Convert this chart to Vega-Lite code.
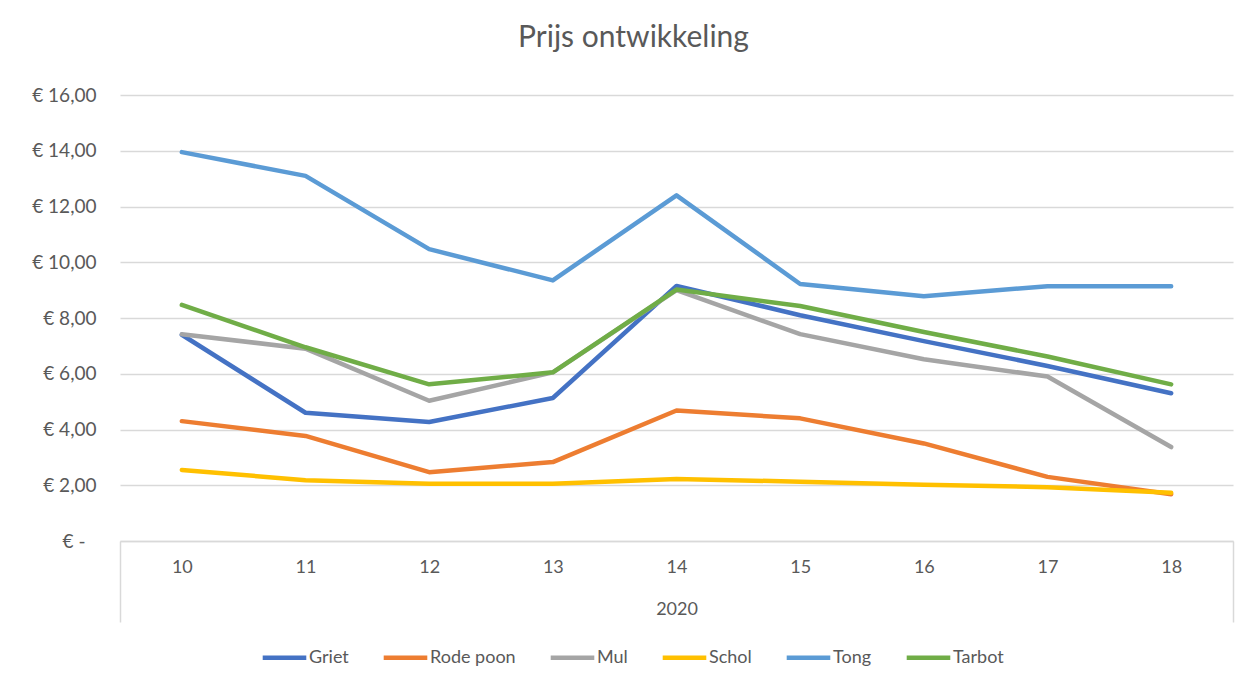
{
  "$schema": "https://vega.github.io/schema/vega-lite/v6.json",
  "width": 1113,
  "height": 446,
  "autosize": {"type": "none"},
  "padding": {"left": 120, "top": 95, "right": 24, "bottom": 143},
  "background": "white",
  "title": {
    "text": "Prijs ontwikkeling",
    "anchor": "middle",
    "frame": "group",
    "dx": -43,
    "offset": 33,
    "font": "Lato",
    "fontSize": 30,
    "fontWeight": "normal",
    "color": "#595959"
  },
  "config": {
    "view": {"stroke": null},
    "font": "Lato"
  },
  "data": {
    "values": [
      {"week": "10", "vis": "Griet", "prijs": 7.40},
      {"week": "11", "vis": "Griet", "prijs": 4.60},
      {"week": "12", "vis": "Griet", "prijs": 4.27},
      {"week": "13", "vis": "Griet", "prijs": 5.13},
      {"week": "14", "vis": "Griet", "prijs": 9.15},
      {"week": "15", "vis": "Griet", "prijs": 8.10},
      {"week": "16", "vis": "Griet", "prijs": 7.17},
      {"week": "17", "vis": "Griet", "prijs": 6.28},
      {"week": "18", "vis": "Griet", "prijs": 5.30},
      {"week": "10", "vis": "Rode poon", "prijs": 4.30},
      {"week": "11", "vis": "Rode poon", "prijs": 3.77},
      {"week": "12", "vis": "Rode poon", "prijs": 2.47},
      {"week": "13", "vis": "Rode poon", "prijs": 2.83},
      {"week": "14", "vis": "Rode poon", "prijs": 4.68},
      {"week": "15", "vis": "Rode poon", "prijs": 4.40},
      {"week": "16", "vis": "Rode poon", "prijs": 3.50},
      {"week": "17", "vis": "Rode poon", "prijs": 2.30},
      {"week": "18", "vis": "Rode poon", "prijs": 1.68},
      {"week": "10", "vis": "Mul", "prijs": 7.42},
      {"week": "11", "vis": "Mul", "prijs": 6.90},
      {"week": "12", "vis": "Mul", "prijs": 5.03},
      {"week": "13", "vis": "Mul", "prijs": 6.05},
      {"week": "14", "vis": "Mul", "prijs": 9.00},
      {"week": "15", "vis": "Mul", "prijs": 7.42},
      {"week": "16", "vis": "Mul", "prijs": 6.52},
      {"week": "17", "vis": "Mul", "prijs": 5.90},
      {"week": "18", "vis": "Mul", "prijs": 3.37},
      {"week": "10", "vis": "Schol", "prijs": 2.55},
      {"week": "11", "vis": "Schol", "prijs": 2.18},
      {"week": "12", "vis": "Schol", "prijs": 2.05},
      {"week": "13", "vis": "Schol", "prijs": 2.05},
      {"week": "14", "vis": "Schol", "prijs": 2.22},
      {"week": "15", "vis": "Schol", "prijs": 2.13},
      {"week": "16", "vis": "Schol", "prijs": 2.02},
      {"week": "17", "vis": "Schol", "prijs": 1.93},
      {"week": "18", "vis": "Schol", "prijs": 1.73},
      {"week": "10", "vis": "Tong", "prijs": 13.95},
      {"week": "11", "vis": "Tong", "prijs": 13.10},
      {"week": "12", "vis": "Tong", "prijs": 10.47},
      {"week": "13", "vis": "Tong", "prijs": 9.35},
      {"week": "14", "vis": "Tong", "prijs": 12.40},
      {"week": "15", "vis": "Tong", "prijs": 9.22},
      {"week": "16", "vis": "Tong", "prijs": 8.78},
      {"week": "17", "vis": "Tong", "prijs": 9.14},
      {"week": "18", "vis": "Tong", "prijs": 9.14},
      {"week": "10", "vis": "Tarbot", "prijs": 8.47},
      {"week": "11", "vis": "Tarbot", "prijs": 6.95},
      {"week": "12", "vis": "Tarbot", "prijs": 5.62},
      {"week": "13", "vis": "Tarbot", "prijs": 6.05},
      {"week": "14", "vis": "Tarbot", "prijs": 9.02},
      {"week": "15", "vis": "Tarbot", "prijs": 8.43},
      {"week": "16", "vis": "Tarbot", "prijs": 7.50},
      {"week": "17", "vis": "Tarbot", "prijs": 6.62},
      {"week": "18", "vis": "Tarbot", "prijs": 5.62}
    ]
  },
  "mark": {"type": "line", "strokeWidth": 4.5, "strokeCap": "round", "strokeJoin": "round"},
  "encoding": {
    "x": {
      "field": "week",
      "type": "ordinal",
      "bandPosition": 0.5,
      "scale": {"type": "band", "paddingInner": 0, "paddingOuter": 0},
      "axis": {
        "title": "2020",
        "titleFont": "Lato",
        "titleFontSize": 18,
        "titleFontWeight": "normal",
        "titleColor": "#595959",
        "titleY": 68,
        "titleBaseline": "middle",
        "labelAngle": 0,
        "labelFont": "Lato",
        "labelFontSize": 18,
        "labelColor": "#595959",
        "labelPadding": -64,
        "domainColor": "#d9d9d9",
        "domainWidth": 1.5,
        "tickBand": "extent",
        "tickSize": 81,
        "tickWidth": 1.5,
        "tickColor": {"condition": {"test": "datum.index < 0 || datum.index >= 0.999", "value": "#d9d9d9"}, "value": "transparent"},
        "grid": false
      }
    },
    "y": {
      "field": "prijs",
      "type": "quantitative",
      "scale": {"domain": [0, 16]},
      "axis": {
        "title": null,
        "values": [0, 2, 4, 6, 8, 10, 12, 14, 16],
        "labelExpr": "datum.value == 0 ? '€ -' : '€ ' + replace(format(datum.value, '.2f'), '.', ',')",
        "labelFont": "Lato",
        "labelFontSize": 19,
        "labelColor": "#595959",
        "labelPadding": {"condition": {"test": "datum.value == 0", "value": 35}, "value": 24},
        "domain": false,
        "ticks": false,
        "grid": true,
        "gridColor": "#d9d9d9",
        "gridWidth": 1.5
      }
    },
    "color": {
      "field": "vis",
      "type": "nominal",
      "sort": ["Griet", "Rode poon", "Mul", "Schol", "Tong", "Tarbot"],
      "scale": {
        "domain": ["Griet", "Rode poon", "Mul", "Schol", "Tong", "Tarbot"],
        "range": ["#4472C4", "#ED7D31", "#A5A5A5", "#FFC000", "#5B9BD5", "#70AD47"]
      },
      "legend": {
        "title": null,
        "orient": "none",
        "direction": "horizontal",
        "legendX": 140,
        "legendY": 538,
        "symbolType": "stroke",
        "symbolSize": 1900,
        "symbolStrokeWidth": 4.5,
        "labelFont": "Lato",
        "labelFontSize": 18,
        "labelColor": "#595959",
        "labelOffset": 0,
        "columnPadding": 25
      }
    }
  }
}
